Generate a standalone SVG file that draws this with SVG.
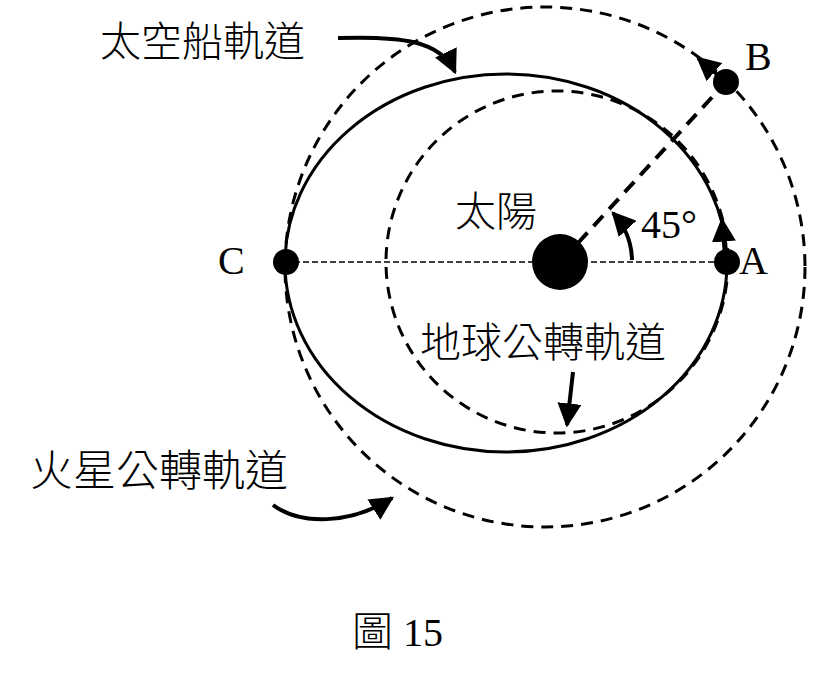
<svg xmlns="http://www.w3.org/2000/svg" width="820" height="679" viewBox="0 0 820 679">
<style>
.t{font-family:"Liberation Serif","Noto Sans CJK TC",serif;font-size:40px;fill:#000}
.c{font-family:"Noto Sans CJK TC","Liberation Serif",serif;font-size:41px;font-weight:300;fill:#000}
.o{fill:none;stroke:#000;stroke-width:3}
.d{stroke-dasharray:12 8}
.a{fill:none;stroke:#000;stroke-width:4}
</style>
<defs>
<marker id="H" viewBox="0 0 10 10" refX="9" refY="5" markerWidth="24" markerHeight="24" orient="auto" markerUnits="userSpaceOnUse"><path d="M0,0 L10,5 L0,10z" fill="#000"/></marker></defs>
<rect width="820" height="679" fill="#fff"/>
<g id="orbits">
<circle id="mars" class="o d" cx="545" cy="267" r="260"/>
<circle id="earth" class="o d" cx="557" cy="262" r="171"/>
<ellipse id="ship" class="o" cx="506" cy="263" rx="221" ry="189"/>
</g>
<g id="connectors">
<line x1="285" y1="262" x2="728" y2="262" stroke="#000" stroke-width="1.5" stroke-dasharray="6 3"/>
<line x1="578" y1="243" x2="726" y2="82" stroke="#000" stroke-width="4" stroke-dasharray="14 9"/>
<path class="a" d="M726,82 L698,58" marker-end="url(#H)"/>
<path class="a" d="M725,255 L722,220" marker-end="url(#H)"/>
<path class="a" d="M632,260 A72,72 0 0 0 613,213" marker-end="url(#H)"/>
<path class="a" d="M338,38 C400,36 440,40 455,72" marker-end="url(#H)"/>
<path class="a" d="M573,372 L567,425" marker-end="url(#H)"/>
<path class="a" d="M273,505 C300,525 350,525 392,498" marker-end="url(#H)"/>
</g>
<g id="sun"><circle cx="560" cy="262" r="28"/><text class="c" x="455" y="226">太陽</text></g>
<g id="C"><circle cx="286" cy="262" r="13"/><text class="t" x="218" y="274">C</text></g>
<g id="A"><circle cx="727" cy="262" r="13"/><text class="t" x="739" y="274">A</text></g>
<g id="B"><circle cx="726" cy="82" r="13"/><text class="t" x="745" y="70">B</text></g>
<g id="labels">
<text class="t" x="641" y="238">45°</text>
<text class="c" x="100" y="56">太空船軌道</text>
<text class="c" x="420" y="357">地球公轉軌道</text>
<text class="c" x="30" y="486" style="font-size:43px">火星公轉軌道</text>
<text class="t" x="352" y="646"><tspan class="c">圖</tspan> 15</text>
</g>
</svg>
